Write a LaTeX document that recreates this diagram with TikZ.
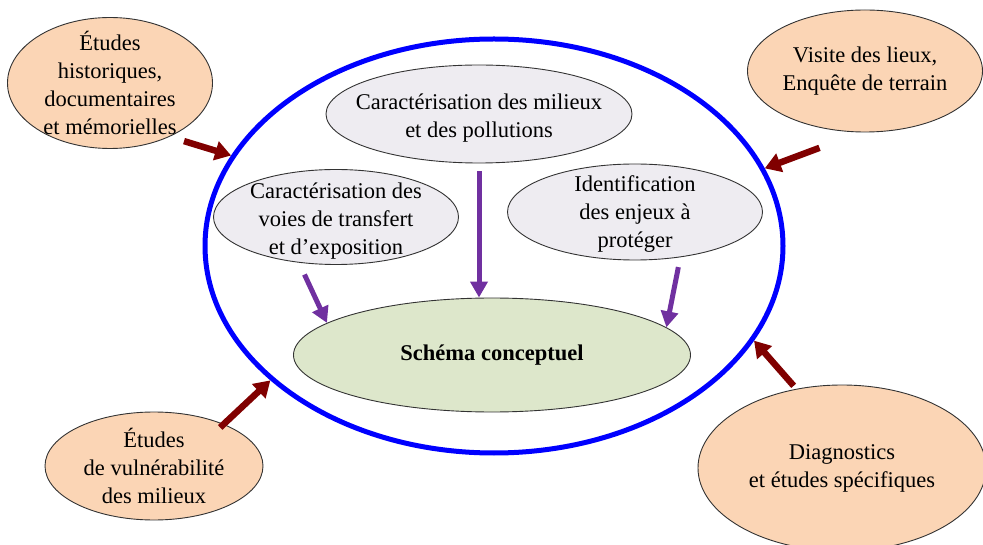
\documentclass[tikz,border=0pt]{standalone}
\usepackage{fontspec}
\setmainfont{Liberation Serif}
\usepackage{tikz}
\usetikzlibrary{shapes,arrows.meta}

\definecolor{peche}{RGB}{251,213,181}
\definecolor{grisclair}{RGB}{238,236,241}
\definecolor{vertpale}{RGB}{221,231,203}
\definecolor{bleucadre}{RGB}{0,0,255}
\definecolor{violetfl}{RGB}{112,48,160}
\definecolor{bordeaux}{RGB}{128,0,0}

\begin{document}
\begin{tikzpicture}[x=1pt,y=-1pt]%
\tikzstyle{bulle} = [ellipse, draw=black!80, line width=0.9pt, inner sep=0pt]
\tikzstyle{source} = [bulle, fill=peche]
\tikzstyle{etape} = [bulle, fill=grisclair]
\tikzstyle{texte} = [align=center, font=\fontsize{22.5}{28}\selectfont]
\tikzstyle{fleche} = [violetfl, line width=5pt, -{Triangle[width=17pt,length=16pt]}]
\tikzstyle{apport} = [bordeaux, line width=6.5pt, -{Triangle[width=19pt,length=16pt]}]

\useasboundingbox (0,0) rectangle (983,545);

\node[ellipse, draw=bleucadre, line width=5pt, minimum width=578pt, minimum height=414pt] (cadre) at (494,246) {};

\node[source, minimum width=205pt, minimum height=131pt,
  label={[texte]center:{Études\\historiques,\\documentaires\\et mémorielles}}] (etudes) at (110,83) {};
\node[source, minimum width=235pt, minimum height=122pt,
  label={[texte]center:{Visite des lieux,\\Enquête de terrain}}] (visite) at (865,71) {};
\node[source, minimum width=218pt, minimum height=108pt,
  label={[texte]center:{Études\\de vulnérabilité\\des milieux}}] (vulner) at (154,466) {};
\node[source, minimum width=288pt, minimum height=166pt,
  label={[texte]center:{Diagnostics\\et études spécifiques}}] (diagnostics) at (842,468) {};

\node[etape, minimum width=306pt, minimum height=98pt,
  label={[texte,yshift=-4pt]center:{Caractérisation des milieux\\et des pollutions}}] (milieux) at (479,114) {};
\node[etape, minimum width=245pt, minimum height=95pt,
  label={[texte,yshift=-4pt]center:{Caractérisation des\\voies de transfert\\et d’exposition}}] (voies) at (336,217) {};
\node[etape, minimum width=255pt, minimum height=96pt,
  label={[texte,yshift=-2pt]center:{Identification\\des enjeux à\\protéger}}] (enjeux) at (635,212) {};

\node[bulle, fill=vertpale, minimum width=397pt, minimum height=114pt,
  label={[texte]center:{\textbf{Schéma conceptuel}}}] (schema) at (492,355) {};

% vers le schema conceptuel
\draw[fleche, shorten <=13pt] (voies.231) -- (schema.169);
\draw[fleche, shorten <=8pt] (milieux.south) -- (milieux.south |- schema.north);
\draw[fleche, shorten <=10pt] (enjeux.315) -- (schema.9);

% apports exterieurs
\draw[apport, shorten <=15pt] (etudes.318) -- (cadre.161);
\draw[apport, shorten <=44pt] (visite.266) -- (cadre.16);
\draw[apport, shorten <=-5pt] (vulner.31) -- (cadre.211);
\draw[apport, shorten <=4pt] (diagnostics.120) -- (cadre.340);
\end{tikzpicture}
\end{document}
